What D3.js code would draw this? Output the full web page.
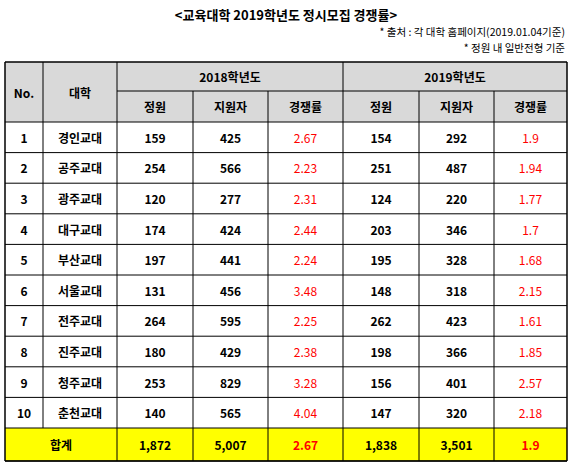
<!DOCTYPE html><html><head><meta charset="utf-8"><script src="https://d3js.org/d3.v7.min.js"></script>
<style>body{margin:0;background:#fff}text{font-family:"Noto Sans CJK KR",sans-serif}</style></head><body><svg id="c" width="573" height="464"></svg><script>
const nums=["1","2","3","4","5","6","7","8","9","10"];
const univs=["경인교대","공주교대","광주교대","대구교대","부산교대","서울교대","전주교대","진주교대","청주교대","춘천교대"];
const quota2018=[159,254,120,174,197,131,264,180,253,140];
const apply2018=[425,566,277,424,441,456,595,429,829,565];
const rate2018=["2.67","2.23","2.31","2.44","2.24","3.48","2.25","2.38","3.28","4.04"];
const quota2019=[154,251,124,203,195,148,262,198,156,147];
const apply2019=[292,487,220,346,328,318,423,366,401,320];
const rate2019=["1.9","1.94","1.77","1.7","1.68","2.15","1.61","1.85","2.57","2.18"];
const totals=["1,872","5,007","2.67","1,838","3,501","1.9"];
const svg=d3.select("#c");
const xs=[5,43,117,193,268,343,419,494,567];
const y=d3.scaleLinear().domain([0,10]).range([122,428]);
function t(x,yy,s,o={}){svg.append("text").attr("x",x).attr("y",yy).attr("text-anchor",o.a||"middle").attr("dominant-baseline","central").attr("font-size",o.s||12).attr("font-weight",o.w||"bold").attr("fill",o.f||"#000").text(s);}
t(286,14,"<교육대학 2019학년도 정시모집 경쟁률>",{s:13});
t(565,31,"* 출처 : 각 대학 홈페이지(2019.01.04기준)",{a:"end",s:10.5,w:"normal"});
t(565,47,"* 정원 내 일반전형 기준",{a:"end",s:10.5,w:"normal"});
svg.append("rect").attr("x",5).attr("y",62).attr("width",562).attr("height",60).attr("fill","#d9d9d9");
svg.append("rect").attr("x",5).attr("y",428).attr("width",562).attr("height",33).attr("fill","#ffff00");
const L=(x1,y1,x2,y2,w)=>svg.append("line").attr("x1",x1).attr("y1",y1).attr("x2",x2).attr("y2",y2).attr("stroke","#000").attr("stroke-width",w||1);
for(let i=0;i<=10;i++)L(5,y(i),567,y(i));
L(5,461,567,461);L(5,62,567,62,1.5);L(117,91,567,91);
xs.forEach((x,i)=>{let top=(i>=3&&i!==5)?91:62;if(i===0||i===8)top=62;L(x,top,x,461,(i===0||i===8)?1.5:1);});
L(5,461,567,461,1.5);
svg.selectAll("line").filter(function(){return +this.getAttribute("x1")===43&&+this.getAttribute("x2")===43}).attr("y2",428);
const mid=i=>(xs[i]+xs[i+1])/2;
t(mid(0),92,"No.");t(mid(1),92,"대학");
t((xs[2]+xs[5])/2,76,"2018학년도");t((xs[5]+xs[8])/2,76,"2019학년도");
["정원","지원자","경쟁률","정원","지원자","경쟁률"].forEach((s,i)=>t(mid(i+2),106,s));
nums.forEach((n,i)=>{const yy=(y(i)+y(i+1))/2;
t(mid(0),yy,n);t(mid(1),yy,univs[i]);
t(mid(2),yy,quota2018[i]);t(mid(3),yy,apply2018[i]);t(mid(4),yy,rate2018[i],{f:"#ff0000",w:"normal"});
t(mid(5),yy,quota2019[i]);t(mid(6),yy,apply2019[i]);t(mid(7),yy,rate2019[i],{f:"#ff0000",w:"normal"});});
t((xs[0]+xs[2])/2,444,"합계");
totals.forEach((s,i)=>t(mid(i+2),444,s,(i%3===2)?{f:"#ff0000"}:{}));
</script></body></html>
